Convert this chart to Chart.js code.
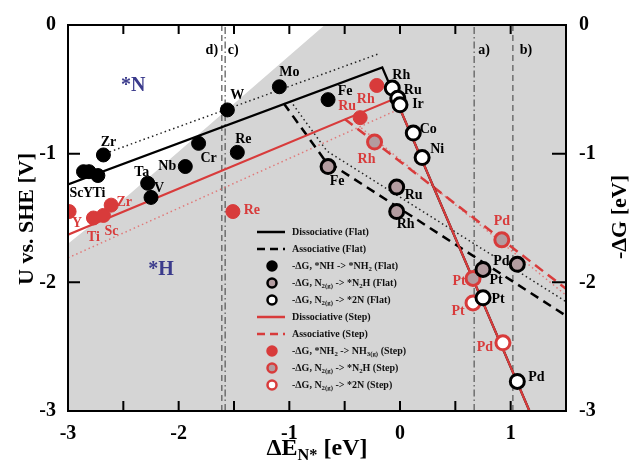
<!DOCTYPE html>
<html>
<head>
<meta charset="utf-8">
<script src="https://cdn.jsdelivr.net/npm/chart.js@4.4.1/dist/chart.umd.min.js"></script>
<style>
  html, body { margin: 0; padding: 0; background: #fff; }
  canvas { display: block; }
</style>
</head>
<body>
<canvas id="volcano" width="635" height="463"></canvas>
<script>
// values: x = dE_N* [eV], y = U vs. SHE [V] / -dG [eV]

// -dG, *NH -> *NH2 (Flat)
const flatNhNames = ['Zr', 'Sc', 'Y', 'Ti', 'Ta', 'V', 'Nb', 'Cr', 'W', 'Re', 'Mo', 'Fe'];
const flatNhDE = [-2.68, -2.86, -2.81, -2.73, -2.28, -2.25, -1.94, -1.82, -1.56, -1.47, -1.09, -0.65];
const flatNhDG = [-1.01, -1.14, -1.14, -1.17, -1.23, -1.34, -1.10, -0.92, -0.66, -0.99, -0.48, -0.58];

// -dG, N2(g) -> *N2H (Flat)
const flatN2hNames = ['Fe', 'Ru', 'Rh', 'Pt', 'Pd'];
const flatN2hDE = [-0.65, -0.03, -0.03, 0.75, 1.06];
const flatN2hDG = [-1.10, -1.26, -1.45, -1.90, -1.86];

// -dG, N2(g) -> *2N (Flat)
const flat2nNames = ['Rh', 'Ru', 'Ir', 'Co', 'Ni', 'Pt', 'Pd'];
const flat2nDE = [-0.07, -0.02, 0.00, 0.12, 0.20, 0.75, 1.06];
const flat2nDG = [-0.49, -0.57, -0.62, -0.84, -1.03, -2.12, -2.77];

// -dG, *NH2 -> NH3(g) (Step)
const stepNh2Names = ['Y', 'Ti', 'Sc', 'Zr', 'Re', 'Rh', 'Ru'];
const stepNh2DE = [-2.99, -2.77, -2.68, -2.61, -1.51, -0.21, -0.36];
const stepNh2DG = [-1.45, -1.50, -1.48, -1.40, -1.45, -0.47, -0.72];

// -dG, N2(g) -> *N2H (Step)
const stepN2hNames = ['Rh', 'Pt', 'Pd'];
const stepN2hDE = [-0.23, 0.66, 0.92];
const stepN2hDG = [-0.91, -1.97, -1.67];

// -dG, N2(g) -> *2N (Step)
const step2nNames = ['Pt', 'Pd'];
const step2nDE = [0.66, 0.93];
const step2nDG = [-2.16, -2.47];

// volcano lines
const flatDissX = [-3, -0.16, 1.17];
const flatDissY = [-1.24, -0.33, -3.0];
const flatAssocX = [-1.05, -0.68, 1.5];
const flatAssocY = [-0.61, -1.05, -2.26];
const flatDotUpX = [-2.7, -0.18];
const flatDotUpY = [-1.01, -0.22];
const flatDotDownX = [-0.99, -0.66, 1.5];
const flatDotDownY = [-0.59, -0.98, -2.15];
const stepDissX = [-3, -0.04, 1.17];
const stepDissY = [-1.63, -0.57, -3.0];
const stepAssocX = [-0.5, 1.5];
const stepAssocY = [-0.73, -2.05];
const stepDotLowX = [-3, -0.05];
const stepDotLowY = [-1.81, -0.67];
const stepDotDownX = [-0.35, 1.5];
const stepDotDownY = [-0.80, -2.10];

// *N / *H coverage boundary
const coverX = [-3, -2.45, -0.68, 1.5];
const coverY = [-1.70, -1.32, 0, 0];
const coverNames = ['*N', '*H'];
const coverLabelX = [-2.41, -2.16];
const coverLabelY = [-0.47, -1.90];

// vertical guides
const guideNames = ['a)', 'b)', 'c)', 'd)'];
const guideX = [0.67, 1.02, -1.58, -1.61];

// axes
const xMin = -3, xMax = 1.5, xStep = 0.5;
const yMin = -3, yMax = 0, yStep = 1;

const RED = '#d83b3b';
const PINK = '#e07a7a';
const N2H_FILL = '#b39ca0';
const SERIF = '"Liberation Serif", "Times New Roman", serif';

const pts = (xs, ys) => xs.map((x, i) => ({ x: x, y: ys[i] }));

function lineSet(xs, ys, color, width, dash) {
  return {
    type: 'line', data: pts(xs, ys), borderColor: color, borderWidth: width,
    borderDash: dash, pointRadius: 0, fill: false, order: 20
  };
}

function markerSet(xs, ys, fill, stroke, bw, names, labelColor, offsets) {
  return {
    type: 'scatter', data: pts(xs, ys), pointRadius: 7, pointBorderWidth: bw,
    pointBackgroundColor: fill, pointBorderColor: stroke, order: 1,
    labelNames: names, labelColor: labelColor, labelOffsets: offsets
  };
}

// earlier entries are painted on top
const datasets = [
  {
    type: 'line', data: pts(coverX, coverY), borderWidth: 0, pointRadius: 0,
    backgroundColor: '#d5d5d5', fill: 'start', order: 100
  },
  lineSet(stepDissX, stepDissY, RED, 2.2, []),
  lineSet(flatDissX, flatDissY, '#000', 2.2, []),
  lineSet(stepAssocX, stepAssocY, RED, 2.5, [10, 6]),
  lineSet(flatAssocX, flatAssocY, '#000', 2.5, [9, 6]),
  lineSet(flatDotUpX, flatDotUpY, '#222', 1.5, [1.5, 3]),
  lineSet(flatDotDownX, flatDotDownY, '#222', 1.5, [1.5, 3]),
  lineSet(stepDotLowX, stepDotLowY, PINK, 1.5, [1.5, 3]),
  lineSet(stepDotDownX, stepDotDownY, PINK, 1.5, [1.5, 3]),
  ...guideX.map((g, i) => lineSet([g, g], [yMin, yMax], '#555', 1.2,
    i % 2 === 0 ? [7, 3, 1.5, 3] : [6, 4])),
  markerSet(flatNhDE, flatNhDG, '#000', '#000', 1, flatNhNames, '#000',
    [[5, -13], [-7, 22], [-1, 22], [1, 18], [-6, -11], [8, -9], [-18, 0], [10, 15], [10, -15], [6, -13], [10, -14], [17, -8]]),
  markerSet(stepNh2DE, stepNh2DG, RED, RED, 1, stepNh2Names, RED,
    [[8, 12], [0, 19], [8, 16], [13, -3], [19, -1], [-11, 14], [-13, -11]]),
  markerSet(flatN2hDE, flatN2hDG, N2H_FILL, '#000', 3, flatN2hNames, '#000',
    [[9, 15], [17, 8], [9, 13], [13, 11], [-16, -3]]),
  markerSet(flat2nDE, flat2nDG, '#fff', '#000', 3, flat2nNames, '#000',
    [[9, -13], [15, -8], [18, 0], [15, -4], [15, -8], [15, 2], [19, -4]]),
  markerSet(stepN2hDE, stepN2hDG, N2H_FILL, RED, 3, stepN2hNames, RED,
    [[-8, 17], [-14, 3], [0, -18]]),
  markerSet(step2nDE, step2nDG, '#fff', RED, 3, step2nNames, RED,
    [[-15, 8], [-18, 5]])
];

// text with subscript parts
function drawRich(ctx, parts, x, y, size) {
  let cx = x;
  parts.forEach(([txt, sub]) => {
    const s = sub ? size * 0.68 : size;
    ctx.font = 'bold ' + s + 'px ' + SERIF;
    ctx.fillText(txt, cx, y + (sub ? size * 0.3 : 0));
    cx += ctx.measureText(txt).width;
  });
  return cx - x;
}

function richWidth(ctx, parts, size) {
  let w = 0;
  parts.forEach(([txt, sub]) => {
    ctx.font = 'bold ' + (sub ? size * 0.68 : size) + 'px ' + SERIF;
    w += ctx.measureText(txt).width;
  });
  return w;
}

const legendItems = [
  { kind: 'line', color: '#000', dash: [], parts: [['Dissociative (Flat)']] },
  { kind: 'line', color: '#000', dash: [8, 5], parts: [['Associative (Flat)']] },
  { kind: 'pt', fill: '#000', stroke: '#000', parts: [['-ΔG, *NH -> *NH'], ['2', 1], [' (Flat)']] },
  { kind: 'pt', fill: N2H_FILL, stroke: '#000', parts: [['-ΔG, N'], ['2(g)', 1], [' -> *N'], ['2', 1], ['H (Flat)']] },
  { kind: 'pt', fill: '#fff', stroke: '#000', parts: [['-ΔG, N'], ['2(g)', 1], [' -> *2N (Flat)']] },
  { kind: 'line', color: RED, dash: [], parts: [['Dissociative (Step)']] },
  { kind: 'line', color: RED, dash: [8, 5], parts: [['Associative (Step)']] },
  { kind: 'pt', fill: RED, stroke: RED, parts: [['-ΔG, *NH'], ['2', 1], [' -> NH'], ['3(g)', 1], [' (Step)']] },
  { kind: 'pt', fill: N2H_FILL, stroke: RED, parts: [['-ΔG, N'], ['2(g)', 1], [' -> *N'], ['2', 1], ['H (Step)']] },
  { kind: 'pt', fill: '#fff', stroke: RED, parts: [['-ΔG, N'], ['2(g)', 1], [' -> *2N (Step)']] }
];

const decor = {
  id: 'decor',
  afterDatasetsDraw(chart) {
    const ctx = chart.ctx;
    const { left, right, top, bottom } = chart.chartArea;
    const xs = chart.scales.x, ys = chart.scales.y;
    ctx.save();
    ctx.textAlign = 'center';
    ctx.textBaseline = 'middle';

    // element labels
    chart.data.datasets.forEach((ds, i) => {
      if (!ds.labelNames) return;
      const meta = chart.getDatasetMeta(i);
      ctx.font = 'bold 14px ' + SERIF;
      ctx.fillStyle = ds.labelColor;
      meta.data.forEach((p, j) => {
        const o = ds.labelOffsets[j];
        ctx.fillText(ds.labelNames[j], p.x + o[0], p.y + o[1]);
      });
    });

    // coverage labels
    ctx.font = 'bold 20px ' + SERIF;
    ctx.fillStyle = '#3b3b8c';
    coverNames.forEach((n, i) => {
      ctx.fillText(n, xs.getPixelForValue(coverLabelX[i]), ys.getPixelForValue(coverLabelY[i]));
    });

    // guide labels
    ctx.font = 'bold 14px ' + SERIF;
    ctx.fillStyle = '#000';
    const guideDx = [10, 13, 8, -10];
    guideNames.forEach((n, i) => {
      ctx.fillText(n, xs.getPixelForValue(guideX[i]) + guideDx[i], top + 25);
    });

    // legend
    ctx.textAlign = 'left';
    legendItems.forEach((it, i) => {
      const y = 232 + i * 17;
      if (it.kind === 'line') {
        ctx.beginPath();
        ctx.setLineDash(it.dash);
        ctx.strokeStyle = it.color;
        ctx.lineWidth = 2.5;
        ctx.moveTo(257, y);
        ctx.lineTo(285, y);
        ctx.stroke();
        ctx.setLineDash([]);
      } else {
        ctx.beginPath();
        ctx.arc(272, y, 4.5, 0, Math.PI * 2);
        ctx.fillStyle = it.fill;
        ctx.fill();
        ctx.lineWidth = 2.5;
        ctx.strokeStyle = it.stroke;
        ctx.stroke();
      }
      ctx.fillStyle = '#111';
      drawRich(ctx, it.parts, 292, y, 10);
    });

    // frame and inward ticks
    ctx.strokeStyle = '#000';
    ctx.lineWidth = 2;
    ctx.strokeRect(left, top, right - left, bottom - top);
    for (let v = xMin + xStep; v < xMax - 1e-9; v += xStep) {
      const px = xs.getPixelForValue(v);
      ctx.beginPath();
      ctx.moveTo(px, bottom); ctx.lineTo(px, bottom - 10);
      ctx.moveTo(px, top); ctx.lineTo(px, top + 9);
      ctx.stroke();
    }
    for (let v = yMin + yStep; v < yMax - 1e-9; v += yStep) {
      const py = ys.getPixelForValue(v);
      ctx.beginPath();
      ctx.moveTo(left, py); ctx.lineTo(left + 12, py);
      ctx.moveTo(right, py); ctx.lineTo(right - 14, py);
      ctx.stroke();
    }

    // axis titles
    ctx.fillStyle = '#000';
    ctx.textAlign = 'center';
    ctx.font = 'bold 22px ' + SERIF;
    ctx.save();
    ctx.translate(27, 219);
    ctx.rotate(-Math.PI / 2);
    ctx.fillText('U vs. SHE [V]', 0, 0);
    ctx.restore();
    ctx.save();
    ctx.translate(620, 217);
    ctx.rotate(-Math.PI / 2);
    ctx.fillText('-ΔG [eV]', 0, 0);
    ctx.restore();
    ctx.textAlign = 'left';
    const xt = [['ΔE'], ['N*', 1], [' [eV]']];
    const w = richWidth(ctx, xt, 24);
    drawRich(ctx, xt, (left + right) / 2 - w / 2, 449, 24);
    ctx.restore();
  }
};

const tickFont = { family: SERIF, size: 20, weight: 'bold' };

new Chart(document.getElementById('volcano'), {
  type: 'scatter',
  data: { datasets: datasets },
  options: {
    responsive: false,
    animation: false,
    events: [],
    layout: { padding: { top: 25, left: 0, right: 0, bottom: 0 } },
    plugins: { legend: { display: false }, tooltip: { enabled: false } },
    scales: {
      x: {
        type: 'linear', min: xMin, max: xMax,
        grid: { display: false }, border: { display: false },
        ticks: {
          stepSize: xStep, padding: 3, color: '#000', font: tickFont, maxRotation: 0,
          callback: v => Number.isInteger(v) ? String(v) : ''
        },
        afterFit: s => { s.height = 52; }
      },
      y: {
        type: 'linear', position: 'left', min: yMin, max: yMax,
        grid: { display: false }, border: { display: false },
        ticks: { stepSize: yStep, padding: 4, color: '#000', font: tickFont },
        afterFit: s => { s.width = 68; }
      },
      y2: {
        type: 'linear', position: 'right', min: yMin, max: yMax,
        grid: { display: false }, border: { display: false },
        ticks: { stepSize: yStep, padding: 5, color: '#000', font: tickFont },
        afterFit: s => { s.width = 69; }
      }
    }
  },
  plugins: [decor]
});
</script>
</body>
</html>
